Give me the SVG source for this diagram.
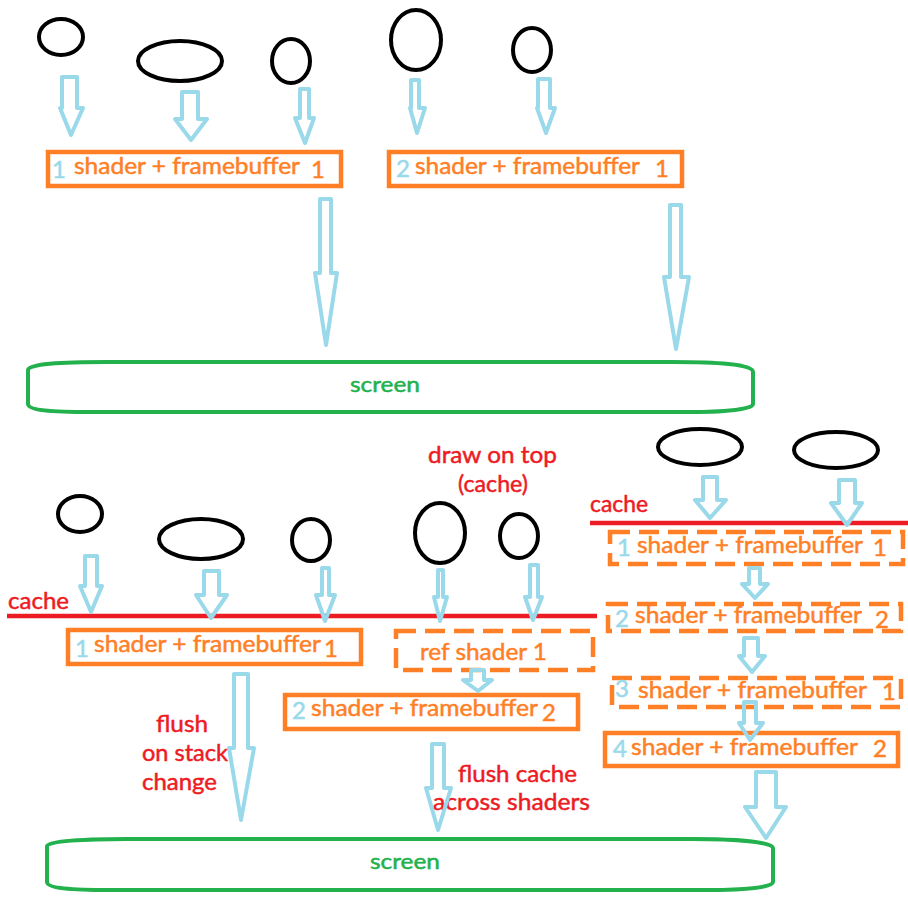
<svg xmlns="http://www.w3.org/2000/svg" width="908" height="900" viewBox="0 0 908 900">
<style>
text{font-family:Lato,"Noto Sans","DejaVu Sans",sans-serif;font-size:24px;stroke-width:0.5px}
.o{fill:#FF7F27;stroke:#FF7F27}.b{fill:#99D9EA;stroke:#99D9EA}.r{fill:#ED1C24;stroke:#ED1C24}.g{fill:#22B14C;stroke:#22B14C}
.el{fill:none;stroke:#000;stroke-width:4}
.box{fill:none;stroke:#FF7F27;stroke-width:4.5}
.dash{fill:none;stroke:#FF7F27;stroke-width:4.5;stroke-dasharray:20 9}
.arr{fill:none;stroke:#99D9EA;stroke-width:4;stroke-linejoin:round}
.scr{fill:none;stroke:#22B14C;stroke-width:4}
.cl{stroke:#ED1C24;stroke-width:4.5}
</style>
<rect width="908" height="900" fill="#fff"/>
<g id="objects-top">
<ellipse class="el" cx="61" cy="37" rx="22" ry="18"/>
<ellipse class="el" cx="180" cy="61" rx="42" ry="20"/>
<ellipse class="el" cx="291" cy="61" rx="19" ry="22"/>
<ellipse class="el" cx="416" cy="40" rx="25" ry="30"/>
<ellipse class="el" cx="532" cy="50" rx="19" ry="22"/>
</g>
<g id="shader-top-1">
<rect class="box" x="48" y="152" width="293" height="34"/>
<text class="b" x="52" y="178">1</text>
<text class="o" x="74" y="174" textLength="226" lengthAdjust="spacingAndGlyphs">shader + framebuffer</text>
<text class="o" x="311" y="178">1</text>
</g>
<g id="shader-top-2">
<rect class="box" x="389" y="152" width="293" height="34"/>
<text class="b" x="396" y="177">2</text>
<text class="o" x="415" y="174" textLength="225" lengthAdjust="spacingAndGlyphs">shader + framebuffer</text>
<text class="o" x="655" y="177">1</text>
</g>
<g id="screen-top">
<path class="scr" d="M107,362 H672 C715,362 753,364 753,372 V404 C753,410 720,412 690,412 H90 C50,412 28,410 28,404 V370 C28,364 60,362 107,362 Z"/>
<text class="g" x="350" y="392" textLength="70" lengthAdjust="spacingAndGlyphs" style="font-size:22px">screen</text>
</g>
<g id="objects-bottom">
<ellipse class="el" cx="80" cy="514" rx="22" ry="18"/>
<ellipse class="el" cx="201" cy="539" rx="42" ry="20"/>
<ellipse class="el" cx="311" cy="540" rx="19" ry="21"/>
<ellipse class="el" cx="440" cy="533" rx="25" ry="30"/>
<ellipse class="el" cx="519" cy="536" rx="19" ry="22"/>
<ellipse class="el" cx="700" cy="447" rx="42" ry="18"/>
<ellipse class="el" cx="836" cy="450" rx="42" ry="18"/>
</g>
<g id="cache-lines">
<line class="cl" x1="7" y1="616" x2="597" y2="616"/>
<text class="r" x="8" y="609" textLength="61" lengthAdjust="spacingAndGlyphs">cache</text>
<line class="cl" x1="590" y1="523" x2="908" y2="523"/>
<text class="r" x="590" y="512" textLength="58" lengthAdjust="spacingAndGlyphs">cache</text>
</g>
<g id="shader-b1">
<rect class="box" x="68" y="630" width="293" height="34"/>
<text class="b" x="75" y="657">1</text>
<text class="o" x="94" y="652" textLength="227" lengthAdjust="spacingAndGlyphs">shader + framebuffer</text>
<text class="o" x="324" y="657">1</text>
</g>
<g id="ref-shader">
<rect class="dash" x="396" y="631" width="197" height="39"/>
<text class="o" x="420" y="660" textLength="127" lengthAdjust="spacingAndGlyphs">ref shader 1</text>
</g>
<g id="shader-b2">
<rect class="box" x="285" y="695" width="293" height="34"/>
<text class="b" x="292" y="719">2</text>
<text class="o" x="311" y="716" textLength="227" lengthAdjust="spacingAndGlyphs">shader + framebuffer</text>
<text class="o" x="542" y="721">2</text>
</g>
<g id="shader-r1">
<rect class="dash" x="610" y="532" width="293" height="32"/>
<text class="b" x="617" y="556">1</text>
<text class="o" x="637" y="553" textLength="226" lengthAdjust="spacingAndGlyphs">shader + framebuffer</text>
<text class="o" x="873" y="556">1</text>
</g>
<g id="shader-r2">
<rect class="dash" x="608" y="604" width="293" height="27"/>
<text class="b" x="615" y="627">2</text>
<text class="o" x="635" y="623" textLength="227" lengthAdjust="spacingAndGlyphs">shader + framebuffer</text>
<text class="o" x="875" y="628">2</text>
</g>
<g id="shader-r3">
<rect class="dash" x="612" y="678" width="289" height="29"/>
<text class="b" x="615" y="697">3</text>
<text class="o" x="638" y="698" textLength="229" lengthAdjust="spacingAndGlyphs">shader + framebuffer</text>
<text class="o" x="882" y="700">1</text>
</g>
<g id="shader-r4">
<rect class="box" x="605" y="733" width="293" height="33"/>
<text class="b" x="613" y="757">4</text>
<text class="o" x="631" y="755" textLength="227" lengthAdjust="spacingAndGlyphs">shader + framebuffer</text>
<text class="o" x="873" y="757">2</text>
</g>
<g id="screen-bottom">
<path class="scr" d="M127,839 H692 C735,839 773,842 773,848 V882 C773,888 740,890 710,890 H110 C70,890 47,888 47,882 V846 C47,841 85,839 127,839 Z"/>
<text class="g" x="370" y="869" textLength="70" lengthAdjust="spacingAndGlyphs" style="font-size:22px">screen</text>
</g>
<g id="notes">
<text class="r" x="428" y="463" textLength="129" lengthAdjust="spacingAndGlyphs">draw on top</text>
<text class="r" x="458" y="492" textLength="70" lengthAdjust="spacingAndGlyphs">(cache)</text>
<text class="r" x="156" y="732" textLength="52" lengthAdjust="spacingAndGlyphs">flush</text>
<text class="r" x="142" y="761" textLength="86" lengthAdjust="spacingAndGlyphs">on stack</text>
<text class="r" x="142" y="790" textLength="75" lengthAdjust="spacingAndGlyphs">change</text>
<text class="r" x="458" y="782" textLength="119" lengthAdjust="spacingAndGlyphs">flush cache</text>
<text class="r" x="433" y="810" textLength="157" lengthAdjust="spacingAndGlyphs">across shaders</text>
</g>
<g id="connectors">
<path class="arr" d="M62,77 H77 V108 H83 L71,135 L60,108 H62 Z"/>
<path class="arr" d="M182,92 H198 V119 H207 L191,140 L175,119 H182 Z"/>
<path class="arr" d="M300,89 H309 V118 H314 L305,143 L295,118 H300 Z"/>
<path class="arr" d="M411,80 H419 V108 H425 L417,133 L410,108 H411 Z"/>
<path class="arr" d="M538,79 H550 V108 H555 L546,133 L537,108 H538 Z"/>
<path class="arr" d="M320,199 H331 V273 H337 L326,345 L315,273 H320 Z"/>
<path class="arr" d="M670,205 H681 V277 H689 L676,349 L664,277 H670 Z"/>
<path class="arr" d="M85,556 H97 V586 H102 L91,612 L80,586 H85 Z"/>
<path class="arr" d="M204,571 H219 V595 H227 L211,618 L196,595 H204 Z"/>
<path class="arr" d="M322,568 H329 V595 H335 L325,621 L316,595 H322 Z"/>
<path class="arr" d="M438,570 H443 V597 H447 L440,621 L434,597 H438 Z"/>
<path class="arr" d="M530,565 H538 V597 H542 L533,620 L525,597 H530 Z"/>
<path class="arr" d="M471,670 H484 V680 H492 L478,691 L463,680 H471 Z"/>
<path class="arr" d="M234,674 H248 V748 H254 L241,820 L229,748 H234 Z"/>
<path class="arr" d="M432,744 H444 V788 H451 L438,830 L426,788 H432 Z"/>
<path class="arr" d="M703,477 H717 V500 H726 L710,518 L695,500 H703 Z"/>
<path class="arr" d="M839,480 H855 V503 H862 L847,525 L831,503 H839 Z"/>
<path class="arr" d="M749,568 H760 V584 H768 L755,598 L742,584 H749 Z"/>
<path class="arr" d="M744,638 H758 V656 H765 L752,672 L739,656 H744 Z"/>
<path class="arr" d="M744,702 H756 V723 H763 L750,740 L739,723 H744 Z"/>
<path class="arr" d="M756,772 H776 V807 H786 L766,838 L745,807 H756 Z"/>
</g>
</svg>
